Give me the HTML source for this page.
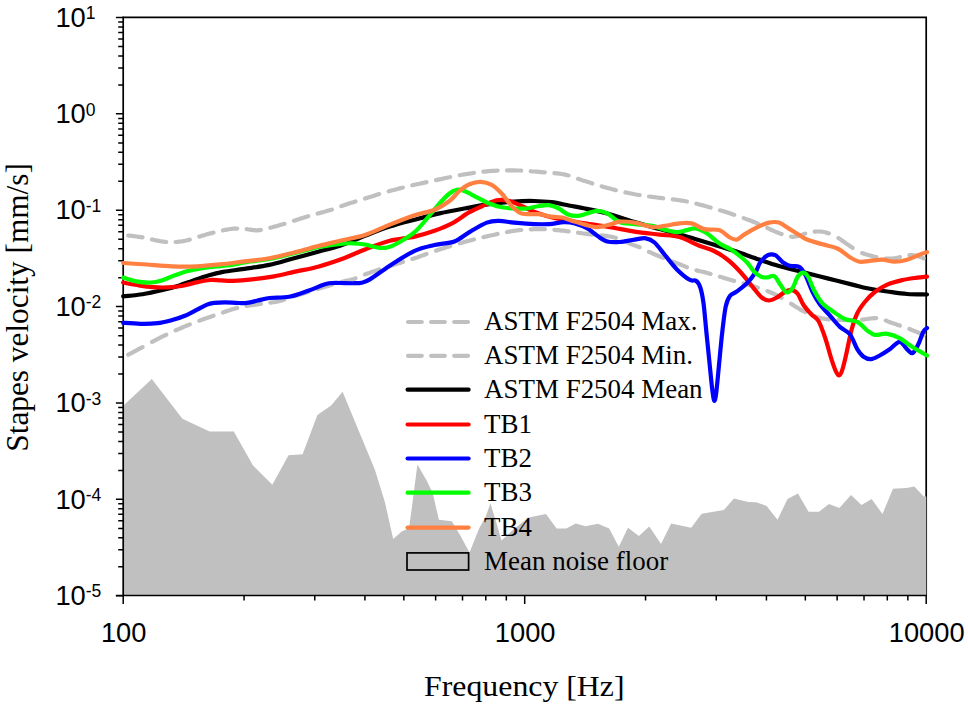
<!DOCTYPE html>
<html lang="en"><head><meta charset="utf-8"><title>Stapes velocity vs. frequency</title>
<style>html,body{margin:0;padding:0;background:#fff}svg{display:block}.sans{font-family:"Liberation Sans",Arial,sans-serif;fill:#000}.serif{font-family:"Liberation Serif","Times New Roman",serif;fill:#000}.c{fill:none;stroke-width:4.2;stroke-linejoin:round;stroke-linecap:round}</style></head><body>
<svg width="968" height="708" viewBox="0 0 968 708">
<rect width="968" height="708" fill="#fff"/>
<g stroke="#000" fill="none">
<path d="M123.20 17.30H926.20V595.50" stroke-width="1.7"/>
</g>
<path d="M123.8 595.5L123.5 405.5L151.8 379.1L182.4 418.8L209.6 431.6L233.8 431.6L253.0 465.5L272.3 484.7L288.5 455.3L302.6 454.3L317.4 414.9L331.1 405.6L342.6 391.8L360.3 434.5L375.0 470.0L385.0 502.5L393.2 539.0L401.7 531.4L409.0 528.2L412.2 505.0L417.4 464.4L426.5 480.3L432.7 493.0L438.9 519.8L451.8 521.3L460.6 536.1L469.5 552.5L479.2 528.3L485.4 517.5L490.4 503.3L496.2 522.1L501.5 540.4L514.0 529.0L528.7 517.5L546.0 513.9L556.6 528.6L566.2 528.6L575.8 523.5L585.5 526.3L598.0 523.8L609.2 528.6L618.8 546.7L628.0 527.8L638.9 536.0L649.3 526.6L661.0 543.9L671.2 523.5L691.2 527.7L701.6 513.7L723.8 510.1L733.9 498.6L748.3 502.0L756.3 502.2L766.7 506.1L777.5 519.8L787.5 499.0L798.0 493.6L808.5 511.7L819.0 511.7L829.0 504.0L839.4 508.1L851.0 495.1L861.5 505.0L871.6 499.0L882.5 513.9L893.0 488.8L906.4 488.0L914.4 486.5L923.7 496.6L926.3 496.6L926.3 595.5Z" fill="#c0c0c0"/>
<g stroke="#000" fill="none">
<path d="M123.20 16.45V596.35" stroke-width="1.7"/>
<path d="M115.90 595.50H927.05" stroke-width="1.7"/>
<path d="M115.90 595.70H123.20M118.20 566.79H123.20M118.20 549.82H123.20M118.20 537.78H123.20M118.20 528.44H123.20M118.20 520.81H123.20M118.20 514.36H123.20M118.20 508.77H123.20M118.20 503.84H123.20M115.90 499.33H123.20M118.20 470.42H123.20M118.20 453.45H123.20M118.20 441.41H123.20M118.20 432.08H123.20M118.20 424.45H123.20M118.20 417.99H123.20M118.20 412.41H123.20M118.20 407.48H123.20M115.90 402.97H123.20M118.20 374.06H123.20M118.20 357.09H123.20M118.20 345.05H123.20M118.20 335.71H123.20M118.20 328.08H123.20M118.20 321.63H123.20M118.20 316.04H123.20M118.20 311.11H123.20M115.90 306.60H123.20M118.20 277.69H123.20M118.20 260.72H123.20M118.20 248.68H123.20M118.20 239.34H123.20M118.20 231.71H123.20M118.20 225.26H123.20M118.20 219.67H123.20M118.20 214.74H123.20M115.90 210.23H123.20M118.20 181.32H123.20M118.20 164.35H123.20M118.20 152.31H123.20M118.20 142.98H123.20M118.20 135.35H123.20M118.20 128.89H123.20M118.20 123.31H123.20M118.20 118.38H123.20M115.90 113.87H123.20M118.20 84.96H123.20M118.20 67.99H123.20M118.20 55.95H123.20M118.20 46.61H123.20M118.20 38.98H123.20M118.20 32.53H123.20M118.20 26.94H123.20M118.20 22.01H123.20M115.90 17.50H123.20M123.20 595.50V604.00M244.06 595.50V600.50M314.76 595.50V600.50M364.93 595.50V600.50M403.84 595.50V600.50M435.63 595.50V600.50M462.51 595.50V600.50M485.79 595.50V600.50M506.33 595.50V600.50M524.70 595.50V604.00M645.56 595.50V600.50M716.26 595.50V600.50M766.43 595.50V600.50M805.34 595.50V600.50M837.13 595.50V600.50M864.01 595.50V600.50M887.29 595.50V600.50M907.83 595.50V600.50M926.20 595.50V604.00" stroke-width="1.5"/>
</g>
<path class="c" d="M128.3 235.5L129.6 235.6L131.8 235.9L134.1 236.2L136.4 236.5L138.6 236.8L140.6 237.1L142.5 237.4M152.0 239.4L153.2 239.7L154.6 240.1L156.0 240.3L157.4 240.6L158.7 240.8L160.0 241.1L161.3 241.3L162.5 241.5L163.8 241.7L165.0 241.9L166.2 242.0M175.6 242.0L175.9 242.0L177.4 241.9L178.9 241.7L180.4 241.5L181.9 241.3L183.4 241.1L184.9 240.8L186.4 240.5L187.9 240.1L189.3 239.7L189.8 239.6M199.3 236.6L199.7 236.5L201.2 236.1L202.6 235.6L204.1 235.2L205.5 234.8L207.0 234.3L208.5 233.9L210.0 233.5L211.5 233.1L213.0 232.7L213.5 232.6M223.0 230.4L223.4 230.3L225.2 229.9L226.9 229.6L228.7 229.3L230.3 229.0L231.9 228.8L233.4 228.7L234.8 228.6L236.1 228.6L237.2 228.6M246.7 229.1L247.7 229.3L248.9 229.5L250.2 229.7L251.6 229.9L252.9 230.1L254.4 230.2L255.9 230.3L257.5 230.3L259.3 230.1L260.9 229.9M270.3 227.8L272.2 227.3L274.5 226.6L276.9 226.0L279.3 225.3L281.7 224.6L284.1 223.9L284.5 223.8M294.0 220.7L294.0 220.7L296.5 219.9L299.1 219.1L301.6 218.3L304.1 217.5L306.6 216.7L308.2 216.2M317.7 213.6L320.0 212.9L322.7 212.2L325.2 211.5L327.5 210.8L329.6 210.2L331.4 209.7L331.9 209.6M341.3 206.1L341.8 205.9L343.9 205.2L346.3 204.4L348.8 203.6L351.4 202.8L354.2 201.9L355.5 201.5M365.0 198.5L367.4 197.7L369.9 196.9L372.4 196.2L374.9 195.4L377.4 194.6L379.2 194.1M388.7 191.3L389.8 191.0L392.3 190.3L394.8 189.7L397.2 189.0L399.7 188.4L402.2 187.8L402.9 187.6M412.3 185.3L414.6 184.8L417.1 184.2L419.6 183.7L422.1 183.1L424.6 182.6L426.5 182.1M436.0 180.1L437.0 179.9L439.5 179.4L442.0 178.9L444.5 178.3L447.0 177.8L449.5 177.3L450.2 177.1M459.7 175.2L461.9 174.8L464.4 174.4L466.9 174.0L469.4 173.6L471.9 173.2L473.9 172.9M483.4 171.7L484.3 171.6L486.8 171.3L489.3 171.1L491.8 170.9L494.3 170.8L496.7 170.6L497.6 170.6M507.0 170.4L509.1 170.4L511.6 170.4L514.1 170.4L516.6 170.5L519.1 170.5L521.2 170.6M530.7 171.2L531.5 171.3L534.0 171.5L536.5 171.7L539.0 171.9L541.5 172.1L544.0 172.3L544.9 172.3M554.4 173.1L556.7 173.3L559.2 173.6L561.6 174.0L563.9 174.4L566.1 174.9L568.3 175.5L568.6 175.5M578.0 178.8L578.4 178.9L580.5 179.6L582.7 180.4L584.9 181.1L587.2 181.8L589.6 182.6L592.1 183.3L592.2 183.4M601.7 186.3L602.2 186.5L604.8 187.2L607.3 187.9L609.8 188.6L612.3 189.3L614.8 189.9L615.9 190.2M625.4 192.4L627.2 192.8L629.6 193.3L632.1 193.8L634.6 194.3L637.1 194.7L639.6 195.1M649.0 196.5L649.5 196.5L652.0 196.8L654.5 197.2L657.0 197.5L659.5 197.8L662.0 198.1L663.2 198.3M672.7 199.3L674.4 199.5L676.9 199.8L679.4 200.2L681.9 200.6L684.4 201.0L686.9 201.5L686.9 201.5M696.4 203.7L696.9 203.8L699.3 204.5L701.8 205.1L704.3 205.8L706.8 206.5L709.3 207.2L710.6 207.6M720.0 210.3L721.7 210.7L724.2 211.5L726.7 212.3L729.1 213.1L731.6 213.9L734.1 214.7L734.2 214.8M743.7 218.1L744.4 218.4L747.0 219.4L749.6 220.3L752.1 221.3L754.5 222.3L756.8 223.2L757.9 223.7M767.4 228.0L768.2 228.4L769.9 229.2L771.5 230.0L773.1 230.7L774.7 231.4L776.4 232.1L778.1 232.7L779.7 233.4L781.3 234.0L781.6 234.1M791.1 236.7L792.7 236.8L794.4 236.7L796.2 236.4L798.0 236.0L799.8 235.5L801.6 234.9L803.4 234.3L805.2 233.6L805.3 233.6M814.7 231.7L815.4 231.6L816.6 231.5L817.8 231.5L818.9 231.5L820.1 231.5L821.3 231.6L822.5 231.8L823.7 232.0L825.0 232.3L826.2 232.6L827.4 232.9L828.6 233.3L828.9 233.4M838.4 238.1L839.5 238.8L841.0 239.8L842.6 240.9L844.2 242.0L845.7 243.1L847.2 244.2L848.6 245.1L849.9 246.0L851.1 246.8L852.1 247.5L852.6 247.9M862.1 253.1L862.9 253.3L864.6 253.9L866.4 254.5L868.2 255.0L870.1 255.5L872.0 256.0L873.8 256.5L875.6 256.9L876.3 257.0M885.7 258.5L886.2 258.5L887.6 258.6L889.1 258.6L890.6 258.6L892.2 258.5L893.9 258.3L895.6 258.1L897.5 257.7L899.3 257.3L899.9 257.1M909.4 255.2L909.6 255.2L910.9 255.1L912.1 255.2L913.2 255.2L914.2 255.4L915.2 255.5L916.1 255.7L916.9 256.0L917.8 256.2L918.6 256.4L919.5 256.7L920.4 257.0L921.3 257.3L922.2 257.7L923.0 258.1L923.6 258.4" stroke="#c0c0c0"/>
<path class="c" d="M128.3 354.7L129.6 354.0L131.8 352.8L134.1 351.6L136.4 350.4L138.6 349.2L140.6 348.1L142.5 347.1M152.0 341.9L152.6 341.6L154.1 340.8L155.7 340.0L157.4 339.1L159.3 338.2L161.2 337.2L163.3 336.2L165.4 335.2L166.2 334.8M175.6 330.4L176.5 330.0L178.6 329.1L180.7 328.2L182.8 327.3L184.9 326.4L187.0 325.5L189.2 324.7L189.8 324.4M199.3 320.7L199.7 320.6L201.8 319.8L204.0 319.0L206.3 318.2L208.5 317.4L210.7 316.7L212.9 315.9L213.5 315.7M223.0 312.5L224.2 312.1L225.6 311.5L227.0 311.0L228.4 310.6L229.7 310.1L231.0 309.7L232.3 309.3L233.6 308.9L235.0 308.5L236.4 308.1L237.2 307.9M246.7 306.0L247.4 305.8L249.4 305.5L251.7 305.1L254.3 304.8L257.2 304.4L260.2 304.0L260.9 303.9M270.3 302.7L272.2 302.4L274.8 302.0L277.0 301.6L278.9 301.2L280.5 300.8L281.9 300.4L283.1 300.0L284.3 299.5L284.5 299.4M294.0 296.3L294.8 296.1L295.8 295.8L297.0 295.5L298.4 295.1L300.0 294.6L302.0 294.0L304.2 293.3L306.8 292.5L308.2 292.1M317.7 289.1L317.8 289.0L320.4 288.2L322.8 287.5L325.0 286.8L326.9 286.2L328.7 285.7L330.3 285.2L331.8 284.7L331.9 284.7M341.3 281.9L341.4 281.9L342.9 281.6L344.3 281.2L345.7 280.9L347.1 280.6L348.5 280.3L349.9 280.0L351.2 279.6L352.5 279.3L353.8 278.9L355.0 278.5L355.5 278.3M365.0 274.4L366.8 273.7L369.0 273.0L371.4 272.1L374.0 271.3L376.6 270.4L379.2 269.5M388.7 266.4L390.0 266.0L392.5 265.2L394.9 264.4L397.4 263.6L399.9 262.9L402.3 262.1L402.9 261.9M412.3 258.9L414.6 258.2L417.1 257.4L419.6 256.5L422.0 255.6L424.5 254.7L426.5 254.0M436.0 250.7L437.0 250.3L439.5 249.5L442.0 248.7L444.5 247.9L447.0 247.1L449.5 246.4L450.2 246.1M459.7 243.3L461.9 242.7L464.4 242.0L466.9 241.3L469.4 240.7L471.9 240.0L473.9 239.5M483.4 237.2L484.3 236.9L486.8 236.4L489.3 235.8L491.8 235.2L494.3 234.7L496.7 234.1L497.6 233.9M507.0 232.0L509.1 231.6L511.6 231.2L514.1 230.8L516.6 230.5L519.1 230.2L521.2 230.0M530.7 229.3L531.8 229.3L534.3 229.2L536.7 229.1L539.0 229.1L541.3 229.1L543.5 229.2L544.9 229.2M554.4 229.9L556.2 230.1L558.2 230.2L560.0 230.4L561.7 230.6L563.4 230.7L564.9 230.9L566.4 231.1L567.8 231.3L568.6 231.4M578.0 232.7L578.2 232.7L579.9 233.0L581.7 233.2L583.4 233.5L585.1 233.7L586.7 233.9L588.2 234.2L589.7 234.3L591.0 234.5L592.2 234.6L592.2 234.6M601.7 235.4L602.0 235.4L603.0 235.5L604.1 235.7L605.1 235.8L606.2 235.9L607.2 236.1L608.2 236.2L609.1 236.4L610.0 236.5L610.8 236.6L611.6 236.8L612.3 236.9L613.0 237.1L613.6 237.2L614.3 237.4L614.9 237.6L615.6 237.8L615.9 237.9M625.4 241.5L625.7 241.6L626.4 241.9L627.1 242.3L627.8 242.6L628.5 242.9L629.2 243.2L629.9 243.6L630.6 243.9L631.3 244.2L632.0 244.5L632.8 244.8L633.6 245.1L634.4 245.4L635.2 245.6L636.0 245.9L636.8 246.2L637.6 246.5L638.4 246.8L639.2 247.1L639.6 247.2M649.0 251.9L649.8 252.2L651.4 252.9L653.1 253.7L655.0 254.5L656.8 255.2L658.6 256.0L660.3 256.7L661.9 257.4L663.2 257.9M672.7 261.6L673.1 261.8L674.3 262.2L675.5 262.7L676.8 263.2L678.2 263.7L679.6 264.3L681.0 264.8L682.4 265.4L683.7 265.9L685.0 266.4L686.2 266.9L686.9 267.2M696.4 270.3L697.5 270.6L698.6 270.9L699.9 271.2L701.2 271.5L702.6 271.8L704.1 272.1L705.7 272.5L707.4 273.0L709.3 273.5L710.6 273.9M720.0 276.7L721.3 277.1L724.0 277.9L726.6 278.7L729.3 279.5L731.8 280.2L734.1 280.9L734.2 280.9M743.7 283.5L744.6 283.8L746.6 284.3L748.6 284.8L750.6 285.4L752.5 286.0L754.5 286.6L756.5 287.2L757.9 287.7M767.4 291.1L768.3 291.4L770.2 292.2L772.1 293.0L773.9 293.8L775.7 294.7L777.4 295.6L779.1 296.5L780.8 297.5L781.6 298.0M791.1 303.8L792.1 304.4L793.7 305.4L795.2 306.4L796.8 307.3L798.3 308.2L799.8 309.2L801.3 310.1L802.9 310.9L804.4 311.7L805.3 312.1M814.7 316.2L815.4 316.4L817.0 317.0L818.7 317.5L820.3 317.9L822.0 318.3L823.7 318.6L825.4 318.9L827.2 319.1L828.9 319.3L828.9 319.3M838.4 319.8L839.9 319.9L841.8 320.0L843.8 320.0L845.8 320.1L847.8 320.1L849.9 320.1L851.9 320.1L852.6 320.1M862.1 319.7L863.5 319.6L865.3 319.3L867.1 319.0L868.9 318.7L870.6 318.5L872.3 318.3L874.0 318.1L875.7 318.1L876.3 318.1M885.7 320.6L886.4 320.8L887.8 321.4L889.3 322.0L890.7 322.6L892.2 323.1L893.7 323.6L895.2 324.1L896.7 324.6L898.2 325.0L899.7 325.5L899.9 325.6M909.4 329.0L910.2 329.3L911.9 330.0L913.5 330.6L915.2 331.3L916.8 331.9L918.3 332.6L919.7 333.2L920.9 333.8L922.0 334.3L922.9 334.8L923.6 335.2" stroke="#c0c0c0"/>
<path class="c" d="M123.2 296.3C126.4 295.9 136.1 295.2 142.5 294.2C148.9 293.2 155.6 291.7 161.6 290.3C167.6 288.9 173.3 287.4 178.6 285.7C183.9 284.0 188.5 282.1 193.4 280.4C198.3 278.7 203.2 276.9 208.2 275.5C213.1 274.1 217.1 273.0 223.1 271.9C229.1 270.8 236.7 270.1 244.4 268.9C252.1 267.7 261.0 266.7 269.3 264.9C277.6 263.1 285.8 260.4 294.1 258.2C302.4 256.0 311.4 253.6 319.0 251.5C326.6 249.4 332.4 248.4 340.0 245.8C347.6 243.2 356.6 239.0 364.9 235.8C373.2 232.6 381.5 229.3 389.8 226.6C398.1 223.9 406.3 221.9 414.6 219.7C422.9 217.5 431.2 215.3 439.5 213.4C447.8 211.5 456.1 210.0 464.4 208.5C472.7 207.0 481.0 205.4 489.3 204.2C497.6 203.0 506.7 202.0 514.1 201.5C521.6 201.0 527.8 200.9 534.0 201.0C540.2 201.1 545.7 201.4 551.5 202.2C557.3 202.9 563.3 204.4 568.9 205.5C574.5 206.6 578.1 207.1 584.9 208.5C591.7 209.9 601.5 211.9 609.8 214.2C618.1 216.5 626.3 219.6 634.6 222.1C642.9 224.6 651.2 226.8 659.5 229.1C667.8 231.4 676.1 233.4 684.4 235.8C692.7 238.2 701.0 240.8 709.3 243.3C717.6 245.8 725.8 248.1 734.1 250.8C742.4 253.5 751.5 257.0 759.0 259.5C766.5 262.0 771.6 263.8 778.9 265.9C786.2 268.0 794.5 270.0 802.6 272.1C810.7 274.2 819.2 276.3 827.5 278.4C835.8 280.5 845.8 283.0 852.4 284.6C859.0 286.2 861.5 287.2 867.3 288.3C873.1 289.4 880.6 290.6 887.2 291.5C893.8 292.4 900.5 293.5 907.1 294.0C913.7 294.5 923.7 294.4 927.0 294.5" stroke="#000"/>
<path class="c" d="M123.2 282.5C125.7 283.0 133.3 284.5 138.3 285.3C143.3 286.1 148.2 286.9 153.1 287.2C158.0 287.5 163.1 287.6 168.0 287.4C172.9 287.1 177.9 286.6 182.8 285.7C187.7 284.8 193.0 283.1 197.6 282.1C202.2 281.2 206.4 280.3 210.3 280.0C214.2 279.7 217.1 280.3 220.9 280.4C224.7 280.5 227.8 281.0 233.0 280.8C238.2 280.6 244.9 280.1 251.8 279.4C258.7 278.7 267.1 277.6 274.2 276.4C281.2 275.1 286.6 273.6 294.1 271.9C301.6 270.2 310.7 268.7 319.0 266.4C327.3 264.1 336.2 261.0 343.9 258.2C351.5 255.4 357.2 252.4 364.9 249.5C372.5 246.6 381.5 243.0 389.8 240.8C398.1 238.7 407.2 238.3 414.6 236.6C422.1 234.9 428.3 233.0 434.5 230.8C440.7 228.6 446.2 226.5 452.0 223.4C457.8 220.3 464.0 215.2 469.4 212.2C474.8 209.2 479.8 207.2 484.3 205.2C488.9 203.2 492.6 200.9 496.7 200.2C500.8 199.5 505.0 200.0 509.2 201.0C513.4 202.0 517.5 204.2 521.6 206.0C525.7 207.8 529.9 210.0 534.0 211.7C538.1 213.3 541.5 214.5 546.5 215.9C551.5 217.3 557.5 218.7 563.9 219.9C570.3 221.2 577.2 222.2 584.9 223.4C592.5 224.6 601.5 225.7 609.8 227.1C618.1 228.5 626.3 230.3 634.6 231.6C642.9 232.8 652.0 233.7 659.5 234.6C667.0 235.5 672.8 235.2 679.4 237.1C686.0 239.0 693.5 243.5 699.3 245.8C705.1 248.1 709.2 248.6 714.0 251.0C718.8 253.4 723.6 256.5 728.0 260.0C732.4 263.5 736.2 267.4 740.4 272.0C744.6 276.6 749.5 283.1 753.0 287.3C756.5 291.6 759.0 295.3 761.7 297.5C764.4 299.7 766.5 300.5 769.0 300.5C771.5 300.5 774.3 298.8 777.0 297.4C779.7 295.9 782.6 293.1 785.0 291.8C787.4 290.6 789.3 289.6 791.4 289.9C793.5 290.2 795.5 291.0 797.5 293.5C799.5 296.0 801.2 301.5 803.5 305.0C805.8 308.5 809.0 311.8 811.5 314.5C814.0 317.2 816.2 317.1 818.5 321.0C820.8 324.9 823.0 331.6 825.2 338.0C827.4 344.4 829.8 354.1 831.6 359.6C833.4 365.1 834.6 368.6 835.8 371.2C837.0 373.8 837.9 375.7 839.0 375.5C840.1 375.3 841.0 373.9 842.2 370.2C843.4 366.5 844.9 360.2 846.4 353.5C847.9 346.8 849.7 336.7 851.5 330.0C853.3 323.3 855.0 318.2 857.2 313.5C859.4 308.8 861.9 305.6 864.8 302.0C867.7 298.4 871.1 294.9 874.8 292.0C878.5 289.1 882.7 286.6 887.2 284.6C891.8 282.6 897.1 281.3 902.1 280.1C907.1 278.9 913.0 278.2 917.1 277.6C921.2 277.0 925.4 276.8 927.0 276.6" stroke="#f00"/>
<path class="c" d="M123.2 322.8C126.1 323.0 134.7 323.7 140.4 323.8C146.1 323.9 152.1 323.8 157.4 323.2C162.7 322.6 167.6 321.2 172.2 320.0C176.8 318.8 180.7 317.6 184.9 315.8C189.1 314.0 193.9 311.2 197.6 309.3C201.3 307.4 204.3 305.7 207.0 304.6C209.7 303.5 211.0 303.3 214.0 302.9C217.0 302.5 221.2 302.4 224.9 302.4C228.6 302.4 232.6 302.7 236.0 302.8C239.4 302.9 241.7 303.4 245.2 303.1C248.7 302.8 252.8 301.7 256.8 300.8C260.8 299.9 263.9 298.7 269.3 298.0C274.7 297.3 282.6 298.1 289.2 296.8C295.8 295.6 303.5 292.4 309.0 290.5C314.5 288.6 318.7 286.5 322.0 285.3C325.3 284.1 326.6 283.7 328.9 283.3C331.2 282.9 333.3 282.9 336.0 282.9C338.7 282.9 341.8 283.1 345.0 283.1C348.2 283.2 352.2 283.3 355.0 283.2C357.8 283.1 359.0 283.3 361.5 282.7C364.0 282.1 365.2 282.2 369.9 279.4C374.6 276.6 382.4 270.5 389.8 265.7C397.2 260.9 407.2 254.2 414.6 250.8C422.1 247.4 427.9 246.6 434.5 245.0C441.1 243.4 448.6 243.7 454.4 241.5C460.2 239.3 464.0 235.2 469.4 232.1C474.8 228.9 481.8 224.5 486.8 222.6C491.8 220.7 494.6 220.9 499.2 220.9C503.8 220.9 508.3 222.1 514.1 222.6C519.9 223.1 528.2 223.8 534.0 224.1C539.8 224.3 544.0 224.4 549.0 224.1C554.0 223.8 559.6 222.2 563.9 222.1C568.2 222.0 571.0 222.3 574.9 223.4C578.8 224.5 583.7 226.3 587.4 228.4C591.1 230.5 594.0 233.6 597.3 235.8C600.6 238.0 603.6 240.5 607.3 241.5C611.0 242.5 615.2 242.3 619.7 242.0C624.2 241.7 630.2 240.2 634.6 239.6C639.0 239.0 642.5 237.8 645.8 238.3C649.1 238.8 651.4 239.8 654.5 242.5C657.6 245.2 660.8 250.0 664.5 254.5C668.2 259.0 672.7 265.2 676.9 269.4C681.1 273.6 686.4 277.9 689.6 279.8C692.8 281.7 694.2 279.5 696.0 280.8C697.8 282.1 699.1 283.9 700.3 287.5C701.5 291.1 702.3 294.6 703.4 302.4C704.5 310.2 705.5 323.6 706.6 334.2C707.7 344.8 708.8 356.4 709.8 365.9C710.8 375.4 711.7 385.6 712.5 391.4C713.3 397.2 713.8 400.9 714.4 400.9C715.0 400.9 715.6 397.9 716.4 391.4C717.2 384.9 718.3 371.9 719.3 361.7C720.3 351.4 721.4 339.1 722.5 329.9C723.6 320.7 724.5 312.2 725.7 306.6C726.9 301.0 728.1 298.5 729.9 296.0C731.7 293.5 733.5 293.9 736.3 291.8C739.1 289.7 743.7 286.5 746.9 283.3C750.1 280.1 753.1 276.2 755.3 272.7C757.5 269.2 758.2 265.1 760.3 262.2C762.4 259.3 765.3 256.4 767.8 255.2C770.3 254.0 772.8 254.0 775.3 255.2C777.8 256.4 780.2 260.4 782.7 262.2C785.2 264.0 787.5 265.1 790.2 265.9C792.9 266.6 796.4 265.2 798.9 266.7C801.4 268.1 802.8 270.4 805.1 274.6C807.4 278.8 810.1 287.0 812.6 292.0C815.1 297.0 817.1 300.6 820.0 304.5C822.9 308.4 826.7 312.0 830.0 315.7C833.3 319.4 836.6 323.8 839.9 326.9C843.2 330.0 847.0 330.6 849.9 334.3C852.8 338.0 855.1 345.6 857.4 349.3C859.7 353.0 861.3 355.1 863.6 356.7C865.9 358.3 868.3 359.4 871.0 359.2C873.7 359.0 876.6 357.1 879.7 355.5C882.8 353.9 886.4 351.6 889.7 349.3C893.0 347.0 896.7 341.8 899.6 341.8C902.5 341.8 904.9 347.4 907.1 349.3C909.3 351.2 910.7 353.8 912.6 353.0C914.5 352.2 916.5 347.8 918.3 344.3C920.1 340.8 921.8 334.5 923.3 331.8C924.8 329.1 926.4 328.7 927.0 328.1" stroke="#00f"/>
<path class="c" d="M123.2 277.6C125.4 278.2 131.6 280.6 136.2 281.4C140.8 282.2 146.8 282.7 151.0 282.5C155.2 282.3 157.7 281.6 161.6 280.4C165.5 279.2 170.1 277.0 174.3 275.5C178.5 274.0 182.8 272.4 187.0 271.3C191.2 270.2 194.8 269.5 199.7 268.7C204.6 267.9 210.8 267.2 216.7 266.5C222.6 265.8 230.4 265.0 235.0 264.3C239.6 263.6 238.7 263.3 244.4 262.4C250.1 261.5 261.0 260.5 269.3 259.0C277.6 257.5 285.8 255.2 294.1 253.2C302.4 251.2 311.4 248.6 319.0 247.0C326.6 245.4 334.4 244.4 340.0 243.8C345.6 243.2 348.2 243.2 352.4 243.3C356.5 243.4 360.8 243.8 364.9 244.5C369.0 245.2 373.6 247.0 377.3 247.5C381.0 248.0 383.6 248.4 387.3 247.5C391.0 246.6 395.1 244.6 399.7 242.0C404.2 239.4 410.0 236.0 414.6 232.1C419.2 228.2 423.0 223.2 427.1 218.4C431.2 213.6 435.8 207.7 439.5 203.5C443.2 199.3 446.6 195.8 449.5 193.5C452.4 191.2 454.4 190.2 456.9 189.8C459.4 189.4 461.1 189.8 464.4 191.0C467.7 192.2 472.6 195.2 476.8 197.3C481.0 199.4 485.2 201.8 489.3 203.5C493.4 205.2 497.6 206.4 501.7 207.2C505.8 208.0 510.0 208.3 514.1 208.5C518.2 208.7 522.5 208.9 526.6 208.5C530.8 208.1 535.3 206.6 539.0 206.0C542.7 205.4 545.7 204.8 549.0 205.2C552.3 205.6 555.8 207.0 558.9 208.5C562.0 210.0 564.4 213.0 567.5 214.2C570.6 215.4 574.1 216.0 577.4 215.9C580.7 215.8 584.1 214.2 587.4 213.4C590.7 212.6 594.0 210.9 597.3 210.9C600.6 210.9 603.6 211.5 607.3 213.4C611.0 215.3 615.2 220.3 619.7 222.1C624.2 223.9 629.2 223.5 634.6 224.1C640.0 224.7 647.0 225.0 652.0 225.9C657.0 226.8 660.4 228.6 664.5 229.6C668.6 230.6 673.2 232.0 676.9 232.1C680.6 232.2 683.8 230.7 686.9 230.1C690.0 229.5 692.3 227.9 695.6 228.4C698.9 228.9 702.9 230.8 706.8 233.3C710.7 235.8 715.2 240.6 719.2 243.3C723.2 246.0 727.4 247.2 731.0 249.5C734.6 251.8 738.2 254.7 741.0 257.0C743.8 259.3 745.8 261.1 748.0 263.5C750.2 265.9 751.8 269.3 754.0 271.5C756.2 273.7 759.2 275.9 761.5 276.9C763.8 277.9 765.9 277.4 768.0 277.3C770.1 277.2 772.1 274.8 774.2 276.0C776.3 277.2 778.4 282.1 780.4 284.8C782.4 287.5 784.5 291.8 786.5 292.4C788.5 293.0 790.7 290.9 792.5 288.3C794.3 285.7 795.8 279.6 797.5 277.0C799.2 274.4 801.0 272.7 802.8 272.6C804.5 272.5 806.1 273.5 808.0 276.5C809.9 279.5 811.9 286.1 814.2 290.5C816.5 294.9 818.9 299.3 822.0 302.8C825.1 306.3 829.1 308.8 833.0 311.5C836.9 314.2 841.4 317.6 845.5 319.3C849.6 321.0 853.8 320.0 857.4 321.9C861.0 323.8 864.4 328.5 867.3 330.6C870.2 332.8 871.5 334.3 874.8 334.8C878.1 335.3 883.1 333.2 887.2 333.8C891.3 334.4 895.5 335.9 899.6 338.1C903.8 340.3 907.5 343.9 912.1 346.8C916.7 349.7 924.5 354.1 927.0 355.5" stroke="#0f0"/>
<path class="c" d="M123.2 263.0C127.1 263.2 138.6 263.9 146.8 264.5C155.0 265.1 163.8 266.0 172.2 266.3C180.6 266.6 189.0 266.6 197.0 266.3C205.0 266.0 212.1 265.2 220.0 264.4C227.9 263.6 236.2 262.4 244.4 261.4C252.6 260.4 261.0 259.7 269.3 258.2C277.6 256.7 285.8 254.6 294.1 252.5C302.4 250.4 311.4 247.8 319.0 245.8C326.6 243.9 332.4 242.6 340.0 240.8C347.6 239.0 356.6 237.8 364.9 235.1C373.2 232.4 381.5 227.9 389.8 224.6C398.1 221.3 407.2 217.7 414.6 215.2C422.1 212.7 428.7 212.1 434.5 209.7C440.3 207.3 445.4 204.1 449.5 201.0C453.6 197.9 456.1 193.8 459.4 191.0C462.7 188.2 465.9 185.8 469.4 184.3C472.9 182.8 476.8 181.7 480.5 181.8C484.2 181.9 488.2 182.9 491.7 184.8C495.2 186.8 498.4 190.0 501.7 193.5C505.0 197.0 508.3 202.7 511.6 206.0C514.9 209.3 517.0 212.0 521.6 213.4C526.2 214.8 534.0 213.6 539.0 214.2C544.0 214.8 547.7 216.1 551.5 216.7C555.3 217.2 558.5 216.8 562.0 217.5C565.5 218.2 568.6 219.7 572.4 220.9C576.2 222.1 580.8 223.6 584.9 224.6C589.0 225.6 593.1 227.1 597.3 227.1C601.4 227.1 606.1 225.5 609.8 224.6C613.5 223.7 615.6 221.9 619.7 221.6C623.8 221.3 629.2 221.7 634.6 222.6C640.0 223.5 647.0 226.5 652.0 227.1C657.0 227.7 659.9 226.5 664.5 225.9C669.1 225.3 674.9 223.8 679.4 223.4C683.9 223.0 687.6 222.5 691.8 223.4C695.9 224.3 699.7 228.0 704.3 229.1C708.9 230.2 715.1 228.8 719.2 230.1C723.4 231.4 726.3 235.5 729.2 237.1C732.1 238.7 734.1 240.0 736.6 239.6C739.1 239.2 740.8 236.6 744.1 234.6C747.4 232.6 752.4 229.6 756.5 227.6C760.6 225.6 765.3 223.4 769.0 222.6C772.7 221.8 775.6 221.6 778.9 222.6C782.2 223.6 785.4 226.4 788.9 228.6C792.4 230.8 796.9 233.6 800.0 235.5C803.1 237.4 803.9 238.3 807.6 239.8C811.4 241.3 817.5 242.9 822.5 244.3C827.5 245.8 832.9 246.3 837.5 248.5C842.1 250.7 846.2 255.0 849.9 257.2C853.6 259.4 856.5 261.1 859.8 261.7C863.1 262.3 866.1 261.2 869.8 260.9C873.5 260.6 878.1 259.6 882.2 259.7C886.4 259.8 890.6 261.7 894.7 261.7C898.9 261.7 903.0 260.9 907.1 259.7C911.2 258.5 916.2 255.9 919.5 254.7C922.8 253.4 925.8 252.6 927.0 252.2" stroke="#ff8040"/>
<path class="c" d="M408 322.0H468" stroke="#c0c0c0" stroke-dasharray="13.8 9.3"/>
<path class="c" d="M408 355.8H468" stroke="#c0c0c0" stroke-dasharray="13.8 9.3"/>
<path class="c" d="M407.6 389.7H468.6" stroke="#000"/>
<path class="c" d="M407.6 424.5H468.6" stroke="#f00"/>
<path class="c" d="M407.6 458.5H468.6" stroke="#00f"/>
<path class="c" d="M407.6 492.7H468.6" stroke="#0f0"/>
<path class="c" d="M407.6 527.6H468.6" stroke="#ff8040"/>
<rect x="407" y="552.9" width="61.6" height="17.1" fill="#c0c0c0" stroke="#000" stroke-width="1.7"/>
<g class="serif" font-size="26.95">
<text x="484.1" y="329.8">ASTM F2504 Max.</text>
<text x="484.1" y="364.1">ASTM F2504 Min.</text>
<text x="484.1" y="398.4">ASTM F2504 Mean</text>
<text x="484.1" y="432.7">TB1</text>
<text x="484.1" y="467.0">TB2</text>
<text x="484.1" y="501.3">TB3</text>
<text x="484.1" y="535.6">TB4</text>
<text x="484.1" y="569.9">Mean noise floor</text>
</g>
<g class="sans">
<text x="55.4" y="26.7" font-size="27.3">10<tspan font-size="17.5" dy="-7.6">1</tspan></text>
<text x="55.4" y="123.1" font-size="27.3">10<tspan font-size="17.5" dy="-7.6">0</tspan></text>
<text x="55.4" y="219.4" font-size="27.3">10<tspan font-size="17.5" dy="-7.6">-1</tspan></text>
<text x="55.4" y="315.8" font-size="27.3">10<tspan font-size="17.5" dy="-7.6">-2</tspan></text>
<text x="55.4" y="412.2" font-size="27.3">10<tspan font-size="17.5" dy="-7.6">-3</tspan></text>
<text x="55.4" y="508.5" font-size="27.3">10<tspan font-size="17.5" dy="-7.6">-4</tspan></text>
<text x="55.4" y="604.9" font-size="27.3">10<tspan font-size="17.5" dy="-7.6">-5</tspan></text>
<text x="123.7" y="641.6" font-size="27.3" text-anchor="middle">100</text>
<text x="525.2" y="641.6" font-size="27.3" text-anchor="middle">1000</text>
<text x="926.7" y="641.6" font-size="27.3" text-anchor="middle">10000</text>
</g>
<text class="serif" transform="translate(524.3 695.6) scale(1.09 1)" font-size="29.2" text-anchor="middle">Frequency [Hz]</text>
<text class="serif" transform="translate(28 307.4) rotate(-90) scale(1.01 1)" font-size="31" text-anchor="middle">Stapes velocity [mm/s]</text>
</svg></body></html>
